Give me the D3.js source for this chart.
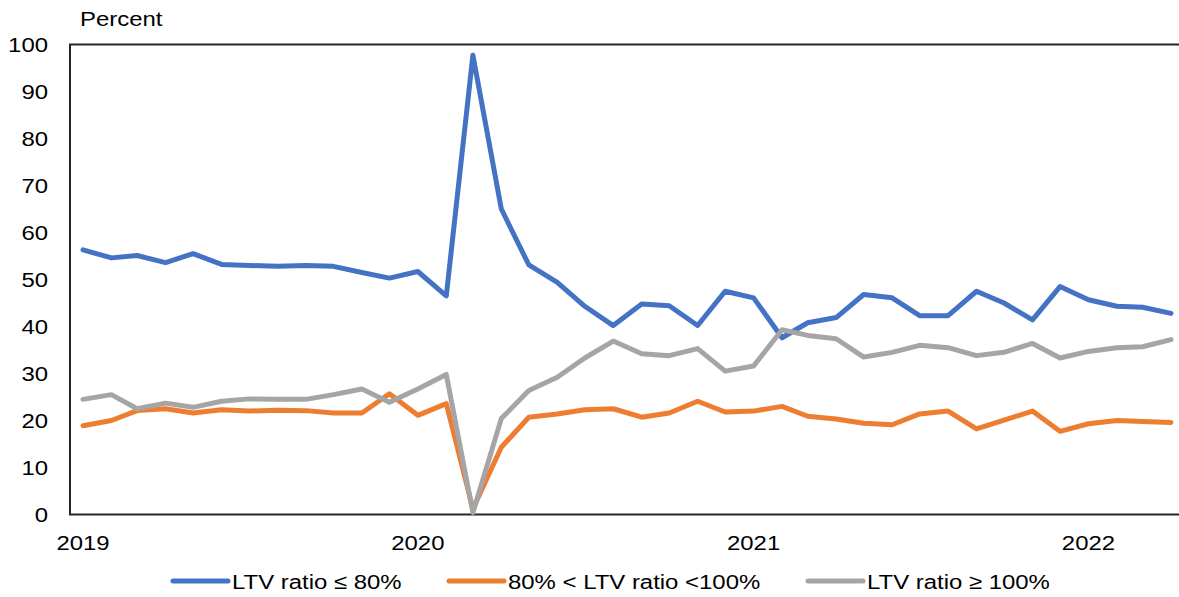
<!DOCTYPE html>
<html>
<head>
<meta charset="utf-8">
<script src="https://cdn.jsdelivr.net/npm/d3@7"></script>
<style>
  body { margin: 0; background: #fff; }
  text { font-family: "Liberation Sans", Arial, sans-serif; fill: #000; }
</style>
</head>
<body>
<div id="chart"></div>
<script>
const width = 1179, height = 597;

// monthly, Jan 2019 .. Apr 2022
const months = d3.timeMonths(new Date(2019, 0, 1), new Date(2022, 4, 1));

const ltvLow = [56.3, 54.6, 55.1, 53.6, 55.5, 53.2, 53.0, 52.8, 53.0, 52.8, 51.5, 50.3,
	51.7, 46.5, 97.7, 65.0, 53.1, 49.4, 44.3, 40.2, 44.8, 44.4, 40.2, 47.5,
	46.1, 37.6, 40.8, 41.9, 46.8, 46.1, 42.3, 42.3, 47.5, 45.0, 41.4, 48.5,
	45.7, 44.3, 44.1, 42.8];
const ltvMid = [18.9, 20.0, 22.1, 22.5, 21.6, 22.3, 22.0, 22.2, 22.1, 21.6, 21.6, 25.7,
	21.1, 23.6, 1.2, 14.3, 20.7, 21.4, 22.3, 22.5, 20.7, 21.6, 24.1, 21.8,
	22.0, 23.0, 20.9, 20.3, 19.4, 19.1, 21.4, 22.0, 18.2, 20.1, 22.0, 17.7,
	19.3, 20.0, 19.8, 19.6];
const ltvHigh = [24.5, 25.5, 22.5, 23.7, 22.8, 24.1, 24.6, 24.5, 24.5, 25.5, 26.7, 23.9,
	26.7, 29.8, 0.4, 20.4, 26.4, 29.2, 33.3, 36.9, 34.2, 33.8, 35.3, 30.5,
	31.6, 39.3, 38.1, 37.4, 33.5, 34.5, 36.0, 35.5, 33.8, 34.5, 36.4, 33.3,
	34.7, 35.5, 35.7, 37.2];

const seriesNames = ["LTV ratio \u2264 80%", "80% < LTV ratio <100%", "LTV ratio \u2265 100%"];
const seriesColors = ["#4472C4", "#ED7D31", "#A5A5A5"];
const yTicks = d3.range(0, 101, 10);
const yearTicks = [2019, 2020, 2021, 2022];

const series = [ltvLow, ltvMid, ltvHigh];

const plot = { left: 70, right: 1179, top: 44.5, bottom: 514.5 };
// the original text is a bit wider than Liberation Sans
const stretch = 1.14;

const svg = d3.select("#chart")
	.append("svg")
	.attr("width", width)
	.attr("height", height);

const x = d3.scaleTime()
	.domain([months[0], months[months.length - 1]])
	.range([83, 1171]);

const y = d3.scaleLinear()
	.domain([0, 100])
	.range([plot.bottom, plot.top]);

// y tick labels
svg.append("g")
	.selectAll("text")
	.data(yTicks)
	.enter()
	.append("text")
	.attr("transform", d => `translate(48,${y(d)}) scale(${stretch},1)`)
	.attr("dy", "0.36em")
	.attr("text-anchor", "end")
	.attr("font-size", 21)
	.text(d => d);

svg.append("text")
	.attr("transform", `translate(80,26) scale(${stretch},1)`)
	.attr("font-size", 21)
	.text("Percent");

// x tick labels
svg.append("g")
	.selectAll("text")
	.data(yearTicks)
	.enter()
	.append("text")
	.attr("transform", d => `translate(${x(new Date(d, 0, 1))},550) scale(${stretch},1)`)
	.attr("text-anchor", "middle")
	.attr("font-size", 21)
	.text(d => d);

// frame: top, left, bottom
svg.append("path")
	.attr("d", `M${plot.right},${plot.top}H${plot.left}V${plot.bottom}H${plot.right}`)
	.attr("fill", "none")
	.attr("stroke", "#262626")
	.attr("stroke-width", 2);

const line = d3.line()
	.x((d, i) => x(months[i]))
	.y(d => y(d));

svg.append("g")
	.selectAll("path")
	.data(series)
	.enter()
	.append("path")
	.attr("d", line)
	.attr("fill", "none")
	.attr("stroke", (d, i) => seriesColors[i])
	.attr("stroke-width", 5)
	.attr("stroke-linejoin", "round")
	.attr("stroke-linecap", "round");

// legend
const legendX = [173, 449, 808];
const legend = svg.append("g")
	.selectAll("g")
	.data(seriesNames)
	.enter()
	.append("g")
	.attr("transform", (d, i) => `translate(${legendX[i]},581)`);

legend.append("line")
	.attr("x1", 0)
	.attr("x2", 55)
	.attr("stroke", (d, i) => seriesColors[i])
	.attr("stroke-width", 5)
	.attr("stroke-linecap", "round");

legend.append("text")
	.attr("transform", `translate(59,0) scale(${stretch},1)`)
	.attr("dy", "0.36em")
	.attr("font-size", 21)
	.text(d => d);
</script>
</body>
</html>
